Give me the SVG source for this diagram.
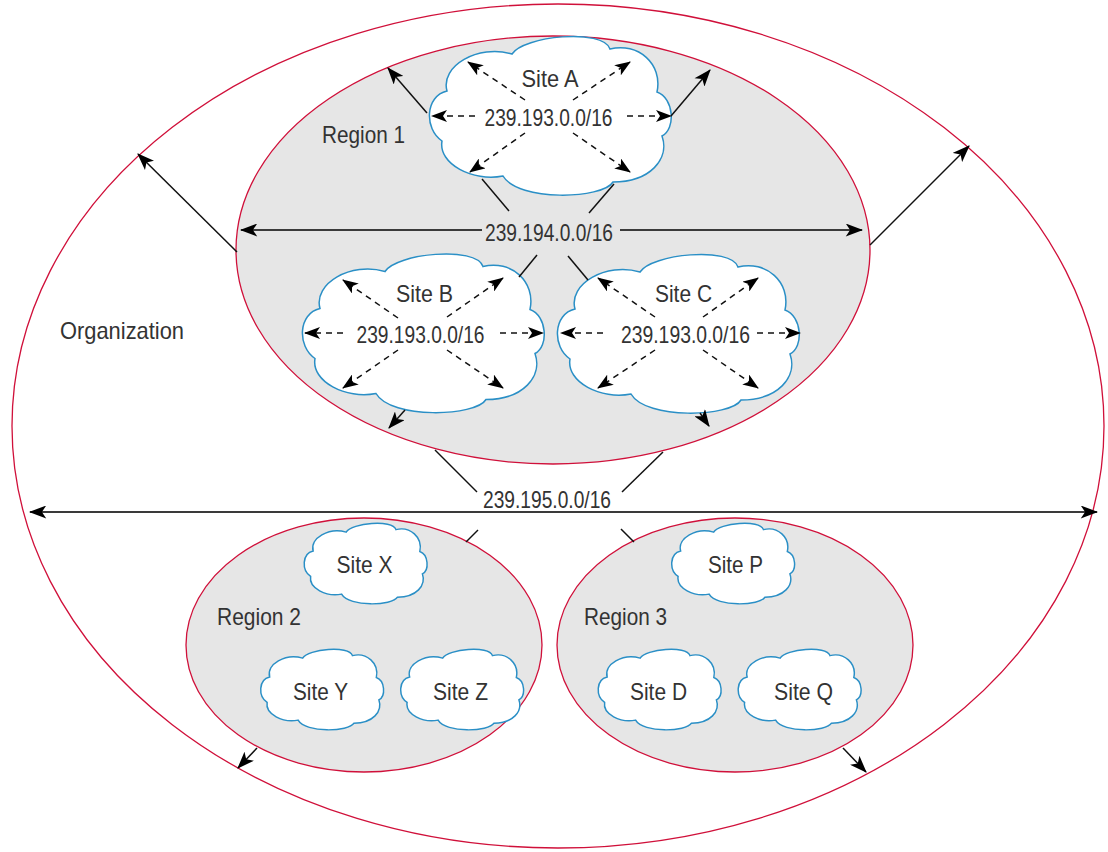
<svg xmlns="http://www.w3.org/2000/svg" xmlns:xlink="http://www.w3.org/1999/xlink" width="1108" height="852" viewBox="0 0 1108 852">
<style>
.outer{fill:#ffffff;stroke:#d0103a;stroke-width:1.3}
.region{fill:#e6e6e6;stroke:#d0103a;stroke-width:1.3}
.cloud{fill:#ffffff;stroke:#2a8fc6;stroke-width:1.5}
.cloudS{fill:#ffffff;stroke:#2a8fc6;stroke-width:2.9}
.solid{stroke:#111;stroke-width:1.5;fill:none}
.bus{stroke:#3a3a3a;stroke-width:2;fill:none}
.dash{stroke:#111;stroke-width:1.5;stroke-dasharray:6 5;fill:none}
text{font-family:"Liberation Sans Narrow","Liberation Sans",Arial,sans-serif;font-size:24px;fill:#333333}
.m{text-anchor:middle}
</style>
<defs>
<marker id="ah" viewBox="0 0 16 12" refX="15" refY="6" markerWidth="18" markerHeight="13" markerUnits="userSpaceOnUse" orient="auto-start-reverse">
<path d="M0,0 L16,6 L0,12 L4,6 Z" fill="#000"/>
</marker>
<marker id="ahs" viewBox="0 0 16 12" refX="15" refY="6" markerWidth="16" markerHeight="12" markerUnits="userSpaceOnUse" orient="auto-start-reverse">
<path d="M0,0 L16,6 L0,12 L4,6 Z" fill="#000"/>
</marker>
<path id="cloudShape" d="M84,20 C95,2 175,-6 182,15 C210,8 235,30 229,58 C246,64 248,95 234,102 C242,125 222,148 185,148 C175,165 90,168 75,142 C45,148 10,130 14,107 C-4,95 -3,62 19,57 C12,32 50,10 84,20 Z"/>
</defs>

<g id="organization">
<ellipse class="outer" cx="558" cy="426" rx="546" ry="422"/>
<text x="60" y="339" textLength="124" lengthAdjust="spacingAndGlyphs">Organization</text>
</g>

<g id="region1">
<ellipse class="region" cx="553" cy="250" rx="317" ry="214"/>
<text x="322" y="143" textLength="83" lengthAdjust="spacingAndGlyphs">Region 1</text>
</g>

<g id="region2">
<ellipse class="region" cx="364" cy="645" rx="178" ry="127"/>
<text x="217" y="625" textLength="84" lengthAdjust="spacingAndGlyphs">Region 2</text>
</g>

<g id="region3">
<ellipse class="region" cx="735" cy="645" rx="178" ry="127"/>
<text x="584" y="625" textLength="83" lengthAdjust="spacingAndGlyphs">Region 3</text>
</g>

<g id="siteA">
<use xlink:href="#cloudShape" class="cloud" transform="translate(428,34)"/>
<text class="m" x="550" y="87" textLength="57" lengthAdjust="spacingAndGlyphs">Site A</text>
<text class="m" x="548.5" y="126" textLength="128" lengthAdjust="spacingAndGlyphs">239.193.0.0/16</text>
</g>

<g id="siteB">
<use xlink:href="#cloudShape" class="cloud" transform="translate(301,251.5)"/>
<text class="m" x="424.5" y="302" textLength="57" lengthAdjust="spacingAndGlyphs">Site B</text>
<text class="m" x="420.5" y="343" textLength="128" lengthAdjust="spacingAndGlyphs">239.193.0.0/16</text>
</g>

<g id="siteC">
<use xlink:href="#cloudShape" class="cloud" transform="translate(556,252)"/>
<text class="m" x="683.5" y="302" textLength="57" lengthAdjust="spacingAndGlyphs">Site C</text>
<text class="m" x="685.5" y="343" textLength="129" lengthAdjust="spacingAndGlyphs">239.193.0.0/16</text>
</g>

<g id="siteX">
<use xlink:href="#cloudShape" class="cloudS" transform="translate(303.5,522) scale(0.508)"/>
<text class="m" x="364.5" y="573" textLength="56" lengthAdjust="spacingAndGlyphs">Site X</text>
</g>
<g id="siteY">
<use xlink:href="#cloudShape" class="cloudS" transform="translate(260,648) scale(0.508)"/>
<text class="m" x="320.5" y="700" textLength="55" lengthAdjust="spacingAndGlyphs">Site Y</text>
</g>
<g id="siteZ">
<use xlink:href="#cloudShape" class="cloudS" transform="translate(400,648) scale(0.508)"/>
<text class="m" x="460.5" y="700" textLength="55" lengthAdjust="spacingAndGlyphs">Site Z</text>
</g>
<g id="siteP">
<use xlink:href="#cloudShape" class="cloudS" transform="translate(671,522) scale(0.508)"/>
<text class="m" x="735.5" y="573" textLength="55" lengthAdjust="spacingAndGlyphs">Site P</text>
</g>
<g id="siteD">
<use xlink:href="#cloudShape" class="cloudS" transform="translate(597.5,648) scale(0.508)"/>
<text class="m" x="658.5" y="700" textLength="57" lengthAdjust="spacingAndGlyphs">Site D</text>
</g>
<g id="siteQ">
<use xlink:href="#cloudShape" class="cloudS" transform="translate(737.5,648) scale(0.508)"/>
<text class="m" x="803.5" y="700" textLength="59" lengthAdjust="spacingAndGlyphs">Site Q</text>
</g>

<g id="connectors">
<line class="dash" x1="525" y1="100" x2="468" y2="62" marker-end="url(#ahs)"/>
<line class="dash" x1="573" y1="100" x2="630" y2="62" marker-end="url(#ahs)"/>
<line class="dash" x1="525" y1="133" x2="470" y2="172" marker-end="url(#ahs)"/>
<line class="dash" x1="573" y1="133" x2="630" y2="172" marker-end="url(#ahs)"/>
<line class="dash" x1="475" y1="116" x2="432" y2="116" marker-end="url(#ahs)"/>
<line class="dash" x1="627" y1="116" x2="671" y2="116" marker-end="url(#ahs)"/>
<line class="dash" x1="398" y1="318" x2="343" y2="280" marker-end="url(#ahs)"/>
<line class="dash" x1="447" y1="317" x2="503" y2="278" marker-end="url(#ahs)"/>
<line class="dash" x1="398" y1="350" x2="343" y2="388" marker-end="url(#ahs)"/>
<line class="dash" x1="447" y1="350" x2="503" y2="388" marker-end="url(#ahs)"/>
<line class="dash" x1="343" y1="333" x2="305" y2="333" marker-end="url(#ahs)"/>
<line class="dash" x1="500" y1="333" x2="543" y2="333" marker-end="url(#ahs)"/>
<line class="dash" x1="655" y1="317" x2="598" y2="278" marker-end="url(#ahs)"/>
<line class="dash" x1="703" y1="317" x2="758" y2="278" marker-end="url(#ahs)"/>
<line class="dash" x1="655" y1="350" x2="598" y2="388" marker-end="url(#ahs)"/>
<line class="dash" x1="703" y1="350" x2="758" y2="388" marker-end="url(#ahs)"/>
<line class="dash" x1="603" y1="333" x2="561" y2="333" marker-end="url(#ahs)"/>
<line class="dash" x1="757" y1="333" x2="800" y2="333" marker-end="url(#ahs)"/>

<line class="solid" x1="427" y1="113" x2="388" y2="68" marker-end="url(#ah)"/>
<line class="solid" x1="671" y1="116" x2="710" y2="70" marker-end="url(#ah)"/>
<line class="solid" x1="237" y1="252" x2="138" y2="154" marker-end="url(#ah)"/>
<line class="solid" x1="870" y1="245" x2="969" y2="146" marker-end="url(#ah)"/>
<line class="solid" x1="405" y1="410" x2="389" y2="428" marker-end="url(#ah)"/>
<line class="solid" x1="700" y1="413" x2="709" y2="426" marker-end="url(#ah)"/>

<line class="bus" x1="241" y1="230" x2="482" y2="230" marker-start="url(#ah)"/>
<line class="bus" x1="620" y1="230" x2="862" y2="230" marker-end="url(#ah)"/>
<line class="solid" x1="509" y1="211" x2="482" y2="179"/>
<line class="solid" x1="589" y1="213" x2="614" y2="184"/>
<line class="solid" x1="537" y1="255" x2="519" y2="277"/>
<line class="solid" x1="568" y1="256" x2="588" y2="280"/>
<text class="m" x="549" y="241" textLength="128" lengthAdjust="spacingAndGlyphs">239.194.0.0/16</text>

<line class="bus" x1="30" y1="512" x2="1097" y2="512" marker-start="url(#ah)" marker-end="url(#ah)"/>
<line class="solid" x1="435" y1="450" x2="477" y2="492"/>
<line class="solid" x1="663" y1="452" x2="622" y2="492"/>
<line class="solid" x1="478" y1="530" x2="466" y2="542"/>
<line class="solid" x1="621" y1="529" x2="634" y2="542"/>
<text class="m" x="547" y="508" textLength="128" lengthAdjust="spacingAndGlyphs">239.195.0.0/16</text>

<line class="solid" x1="257" y1="748" x2="238" y2="768" marker-end="url(#ah)"/>
<line class="solid" x1="843" y1="748" x2="866" y2="772" marker-end="url(#ah)"/>
</g>
</svg>
